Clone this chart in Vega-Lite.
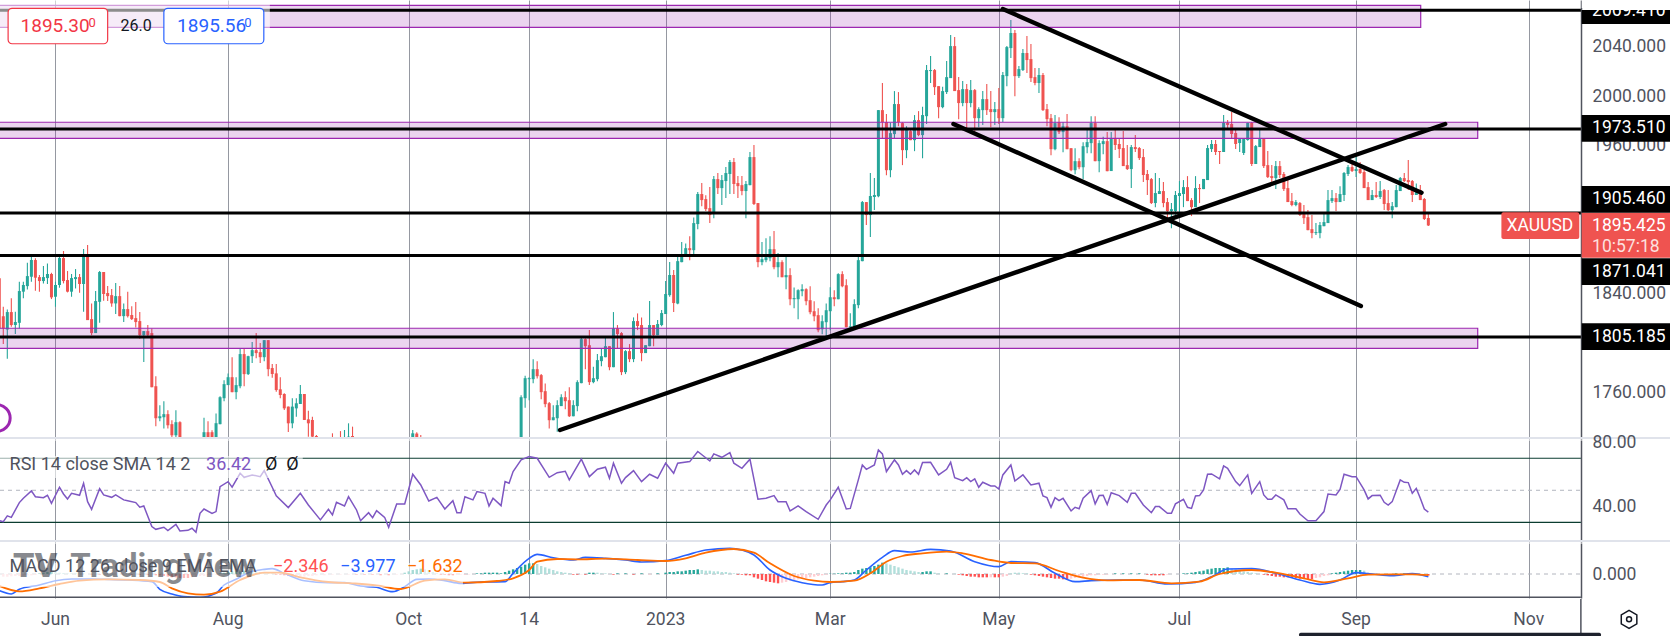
{
"$schema":"https://vega.github.io/schema/vega-lite/v6.json",
"padding":0,
"background":"white",
"bounds":"flush",
"spacing":1,
"config":{"view":{"stroke":null},"font":"Roboto","text":{"font":"Roboto"},"axis":{"labelFont":"Roboto"}},
"datasets":{
"candles":[
{"b":-1,"o":1852.6,"h":1852.6,"l":1812.1,"c":1812.1},
{"b":0,"o":1822,"h":1829.6,"l":1799.4,"c":1812.1},
{"b":1,"o":1811.2,"h":1827.4,"l":1787.5,"c":1825.3},
{"b":2,"o":1825.3,"h":1836.4,"l":1813.4,"c":1814.8},
{"b":3,"o":1814.8,"h":1825.6,"l":1807.5,"c":1817.2},
{"b":4,"o":1816.6,"h":1849.9,"l":1812.1,"c":1842.3},
{"b":5,"o":1841.8,"h":1849.9,"l":1836.4,"c":1847.2},
{"b":6,"o":1846.3,"h":1865.2,"l":1843.6,"c":1854.4},
{"b":7,"o":1853.9,"h":1870.1,"l":1849.9,"c":1867.4},
{"b":8,"o":1867.4,"h":1868.8,"l":1842.6,"c":1853.1},
{"b":9,"o":1853.6,"h":1855.3,"l":1841.8,"c":1850.4},
{"b":10,"o":1850.4,"h":1862.5,"l":1848.5,"c":1853.6},
{"b":11,"o":1852.8,"h":1864.7,"l":1848,"c":1856.1},
{"b":12,"o":1856.1,"h":1857.1,"l":1835.8,"c":1837.2},
{"b":13,"o":1837.7,"h":1849.9,"l":1829.6,"c":1847.2},
{"b":14,"o":1847.2,"h":1870.1,"l":1845,"c":1869},
{"b":15,"o":1869,"h":1874.7,"l":1848.5,"c":1850.4},
{"b":16,"o":1851.2,"h":1858.5,"l":1841.2,"c":1841.8},
{"b":17,"o":1841.8,"h":1856.1,"l":1837.7,"c":1852.8},
{"b":18,"o":1852,"h":1860.1,"l":1844.4,"c":1853.6},
{"b":19,"o":1853.6,"h":1856.1,"l":1840.9,"c":1848},
{"b":20,"o":1848,"h":1876.3,"l":1825.6,"c":1870.1},
{"b":21,"o":1870.1,"h":1879.5,"l":1818.8,"c":1818.8},
{"b":22,"o":1819.6,"h":1832.3,"l":1806.6,"c":1808.3},
{"b":23,"o":1808.3,"h":1842.3,"l":1808.3,"c":1834.2},
{"b":24,"o":1833.6,"h":1858.5,"l":1816.6,"c":1857.7},
{"b":25,"o":1857.7,"h":1857.7,"l":1834.5,"c":1839.9},
{"b":26,"o":1840.7,"h":1846.3,"l":1834.2,"c":1838.2},
{"b":27,"o":1839,"h":1843.9,"l":1829.6,"c":1832.3},
{"b":28,"o":1832.3,"h":1848.8,"l":1823.7,"c":1838.2},
{"b":29,"o":1838.2,"h":1846.3,"l":1822,"c":1822},
{"b":30,"o":1822,"h":1832.3,"l":1817.2,"c":1827.7},
{"b":31,"o":1827.7,"h":1841.8,"l":1821,"c":1822},
{"b":32,"o":1822.9,"h":1830.1,"l":1818.8,"c":1819.6},
{"b":33,"o":1820.4,"h":1833.4,"l":1812.9,"c":1817.2},
{"b":34,"o":1818,"h":1825.3,"l":1803.7,"c":1806.6},
{"b":35,"o":1806.6,"h":1809.9,"l":1785,"c":1809.9},
{"b":36,"o":1809.9,"h":1814.8,"l":1805.8,"c":1806.6},
{"b":37,"o":1808.3,"h":1812.1,"l":1764.5,"c":1764.5},
{"b":38,"o":1765.3,"h":1773.4,"l":1732.9,"c":1739.4},
{"b":39,"o":1739.4,"h":1750,"l":1737,"c":1741},
{"b":40,"o":1740.2,"h":1753.2,"l":1731,"c":1742.7},
{"b":41,"o":1742.7,"h":1745.9,"l":1731,"c":1733.7},
{"b":42,"o":1734.6,"h":1737.8,"l":1724.3,"c":1725.6},
{"b":43,"o":1725.6,"h":1745.9,"l":1721.6,"c":1736.2},
{"b":44,"o":1736.2,"h":1737,"l":1720,"c":1721.6},
{"b":46,"o":1715,"h":1724.3,"l":1700,"c":1718},
{"b":50,"o":1715,"h":1739.7,"l":1705,"c":1728.1},
{"b":51,"o":1728.1,"h":1737,"l":1712,"c":1718},
{"b":52,"o":1728.1,"h":1729.7,"l":1708,"c":1715},
{"b":53,"o":1720,"h":1743.2,"l":1715,"c":1735.4},
{"b":54,"o":1734.6,"h":1757.2,"l":1734.6,"c":1756.4},
{"b":55,"o":1755.6,"h":1770.2,"l":1753.2,"c":1767},
{"b":56,"o":1766.2,"h":1775.6,"l":1766.2,"c":1772.6},
{"b":57,"o":1772.6,"h":1788.8,"l":1760.5,"c":1760.5},
{"b":58,"o":1760.5,"h":1772.6,"l":1754.8,"c":1766.2},
{"b":59,"o":1765.3,"h":1795.9,"l":1763.7,"c":1791.3},
{"b":60,"o":1791.3,"h":1795.9,"l":1765.3,"c":1775.1},
{"b":61,"o":1775.1,"h":1789.9,"l":1774.3,"c":1789.6},
{"b":62,"o":1789.6,"h":1801,"l":1784,"c":1794.5},
{"b":63,"o":1794.5,"h":1808.3,"l":1788,"c":1792.1},
{"b":64,"o":1792.9,"h":1800.2,"l":1784,"c":1788.8},
{"b":65,"o":1788.8,"h":1802.6,"l":1785.6,"c":1802.6},
{"b":66,"o":1802.6,"h":1802.6,"l":1773.4,"c":1779.1},
{"b":67,"o":1780,"h":1783.3,"l":1772.2,"c":1775.2},
{"b":68,"o":1775.7,"h":1783.3,"l":1760.9,"c":1762.2},
{"b":69,"o":1762.8,"h":1772.5,"l":1755.5,"c":1758.2},
{"b":70,"o":1759,"h":1759.6,"l":1746.1,"c":1747.4},
{"b":71,"o":1748.8,"h":1748.8,"l":1728.3,"c":1735.3},
{"b":72,"o":1735.3,"h":1755.5,"l":1731.2,"c":1748.8},
{"b":73,"o":1747.4,"h":1755.5,"l":1740.7,"c":1751.5},
{"b":74,"o":1750.9,"h":1766.3,"l":1750.9,"c":1759},
{"b":75,"o":1759,"h":1759,"l":1738,"c":1738},
{"b":76,"o":1738.5,"h":1745.5,"l":1724.5,"c":1735.3},
{"b":77,"o":1738,"h":1740.7,"l":1721.8,"c":1724.5},
{"b":78,"o":1725,"h":1725.8,"l":1719,"c":1721.3},
{"b":82,"o":1715,"h":1727.2,"l":1705,"c":1710},
{"b":84,"o":1715,"h":1729,"l":1705,"c":1710},
{"b":85,"o":1710,"h":1729.9,"l":1705,"c":1715},
{"b":86,"o":1715,"h":1735.3,"l":1710,"c":1724.5},
{"b":87,"o":1725,"h":1732.6,"l":1710,"c":1715},
{"b":102,"o":1715,"h":1729.9,"l":1710,"c":1727.2},
{"b":103,"o":1727,"h":1728,"l":1710,"c":1715},
{"b":104,"o":1720,"h":1725.8,"l":1708,"c":1712},
{"b":129,"o":1715,"h":1758,"l":1700,"c":1756.4},
{"b":130,"o":1755.6,"h":1773.7,"l":1747.8,"c":1771.8},
{"b":131,"o":1771,"h":1772.5,"l":1754,"c":1771.8},
{"b":132,"o":1771,"h":1787.2,"l":1767.8,"c":1779.1},
{"b":133,"o":1779.1,"h":1785.6,"l":1771.5,"c":1773.4},
{"b":134,"o":1774.3,"h":1775.1,"l":1754.8,"c":1760.5},
{"b":135,"o":1761.3,"h":1767.5,"l":1748.3,"c":1750.8},
{"b":136,"o":1751.6,"h":1752.6,"l":1731,"c":1737.8},
{"b":137,"o":1737.8,"h":1750,"l":1737.8,"c":1740.2},
{"b":138,"o":1739.4,"h":1754,"l":1728.4,"c":1750},
{"b":139,"o":1749.2,"h":1758.9,"l":1749.2,"c":1756.4},
{"b":140,"o":1756.4,"h":1761.3,"l":1746.7,"c":1753.2},
{"b":141,"o":1754,"h":1764.5,"l":1740.5,"c":1741},
{"b":142,"o":1741,"h":1754,"l":1741,"c":1750},
{"b":143,"o":1749.2,"h":1770.2,"l":1745.1,"c":1768.6},
{"b":144,"o":1767.8,"h":1805.3,"l":1767.8,"c":1803.4},
{"b":145,"o":1803.4,"h":1804.2,"l":1779.1,"c":1797.7},
{"b":146,"o":1798.5,"h":1810.7,"l":1766.2,"c":1768.6},
{"b":147,"o":1768.6,"h":1781,"l":1767.8,"c":1771.8},
{"b":148,"o":1771,"h":1791.3,"l":1769.4,"c":1786.4},
{"b":149,"o":1785.6,"h":1795.9,"l":1781.5,"c":1789.6},
{"b":150,"o":1788.8,"h":1805,"l":1788.8,"c":1797.7},
{"b":151,"o":1797.7,"h":1797.7,"l":1778.3,"c":1780.7},
{"b":152,"o":1780.7,"h":1825.3,"l":1780.7,"c":1812.1},
{"b":153,"o":1812.1,"h":1814.8,"l":1795.9,"c":1807.5},
{"b":154,"o":1808.3,"h":1809.1,"l":1774.3,"c":1776.7},
{"b":155,"o":1776.7,"h":1794.5,"l":1775.1,"c":1793.7},
{"b":156,"o":1793.7,"h":1799.4,"l":1784.8,"c":1787.2},
{"b":157,"o":1787.2,"h":1821,"l":1784.8,"c":1818},
{"b":158,"o":1818,"h":1824.2,"l":1810.7,"c":1814},
{"b":159,"o":1814.8,"h":1821,"l":1785.6,"c":1792.1},
{"b":160,"o":1792.1,"h":1798.5,"l":1792.1,"c":1798.5},
{"b":161,"o":1797.7,"h":1834.2,"l":1797.7,"c":1814.8},
{"b":162,"o":1814.8,"h":1814.8,"l":1797.7,"c":1806.6},
{"b":163,"o":1806.6,"h":1818.8,"l":1806.6,"c":1815.6},
{"b":164,"o":1814.8,"h":1826.9,"l":1813.9,"c":1824.5},
{"b":165,"o":1823.7,"h":1850.4,"l":1823.7,"c":1839.9},
{"b":166,"o":1839,"h":1865.8,"l":1837.7,"c":1855.3},
{"b":167,"o":1855.3,"h":1859.3,"l":1825.3,"c":1832.6},
{"b":168,"o":1832.2,"h":1870.5,"l":1831.7,"c":1866.5},
{"b":169,"o":1865.7,"h":1881.9,"l":1865.7,"c":1870.5},
{"b":170,"o":1870.5,"h":1880.8,"l":1870.5,"c":1877},
{"b":171,"o":1877,"h":1886.7,"l":1867.3,"c":1875.4},
{"b":172,"o":1875.4,"h":1901.9,"l":1871.4,"c":1897.3},
{"b":173,"o":1896.5,"h":1922.4,"l":1892.4,"c":1920.8},
{"b":174,"o":1920.8,"h":1929.7,"l":1911,"c":1915.9},
{"b":175,"o":1916.7,"h":1919.9,"l":1907,"c":1908.6},
{"b":176,"o":1909.4,"h":1926.4,"l":1897.3,"c":1903.8},
{"b":177,"o":1906.2,"h":1935.3,"l":1901.3,"c":1932.9},
{"b":178,"o":1932.9,"h":1937.8,"l":1920.8,"c":1925.6},
{"b":179,"o":1925.6,"h":1936.2,"l":1911.9,"c":1932.1},
{"b":180,"o":1931.3,"h":1942.6,"l":1917.5,"c":1937.8},
{"b":181,"o":1937,"h":1948.3,"l":1920.8,"c":1946.7},
{"b":182,"o":1946.7,"h":1949.9,"l":1920.8,"c":1928.9},
{"b":183,"o":1929.7,"h":1935.3,"l":1917.5,"c":1927.2},
{"b":184,"o":1928,"h":1935.3,"l":1919.9,"c":1923.2},
{"b":185,"o":1923.2,"h":1931.3,"l":1901.3,"c":1928.9},
{"b":186,"o":1928,"h":1954.8,"l":1928,"c":1950.7},
{"b":187,"o":1950.7,"h":1960.5,"l":1911.9,"c":1912.7},
{"b":188,"o":1913.5,"h":1913.5,"l":1861.6,"c":1865.7},
{"b":189,"o":1865.7,"h":1881.9,"l":1863.2,"c":1868.1},
{"b":190,"o":1867.3,"h":1885.1,"l":1865.7,"c":1869.7},
{"b":191,"o":1868.9,"h":1886.7,"l":1866.5,"c":1876.2},
{"b":192,"o":1876.2,"h":1890.8,"l":1860,"c":1861.6},
{"b":193,"o":1861.6,"h":1873,"l":1853.5,"c":1865.7},
{"b":194,"o":1865.7,"h":1867.3,"l":1853.5,"c":1853.5},
{"b":195,"o":1853.5,"h":1870,"l":1843.8,"c":1855.2},
{"b":196,"o":1855.2,"h":1860.8,"l":1830.9,"c":1835.7},
{"b":197,"o":1835.7,"h":1845.2,"l":1828.4,"c":1836.6},
{"b":198,"o":1835.7,"h":1843.8,"l":1819.5,"c":1843},
{"b":199,"o":1842.2,"h":1847.9,"l":1838.2,"c":1843.8},
{"b":200,"o":1843.8,"h":1844.6,"l":1830.9,"c":1834.1},
{"b":201,"o":1834.9,"h":1846.2,"l":1823.6,"c":1825.2},
{"b":202,"o":1826,"h":1834.1,"l":1817.9,"c":1821.9},
{"b":203,"o":1822.8,"h":1828.4,"l":1809,"c":1810.6},
{"b":204,"o":1811.4,"h":1822.8,"l":1807.4,"c":1817.9},
{"b":205,"o":1817.1,"h":1832.2,"l":1805.7,"c":1826.8},
{"b":206,"o":1826,"h":1845.4,"l":1810.6,"c":1837.3},
{"b":207,"o":1837.3,"h":1843,"l":1830,"c":1835.7},
{"b":208,"o":1835.7,"h":1856.8,"l":1835.7,"c":1856},
{"b":209,"o":1856,"h":1858.4,"l":1845.4,"c":1846.2},
{"b":210,"o":1847,"h":1851.9,"l":1813,"c":1813},
{"b":211,"o":1813,"h":1824.4,"l":1811.9,"c":1813.8},
{"b":212,"o":1813,"h":1835.7,"l":1811.9,"c":1831.7},
{"b":213,"o":1830.9,"h":1870,"l":1828.4,"c":1867.3},
{"b":214,"o":1866.5,"h":1915.1,"l":1866.5,"c":1914.3},
{"b":215,"o":1914.3,"h":1914.3,"l":1895.7,"c":1903.8},
{"b":216,"o":1903.8,"h":1937.8,"l":1886,"c":1919.2},
{"b":217,"o":1918.4,"h":1933.7,"l":1907.8,"c":1920},
{"b":218,"o":1919,"h":1988.7,"l":1918.2,"c":1988.7},
{"b":219,"o":1988.7,"h":2010.6,"l":1965.8,"c":1979},
{"b":220,"o":1979,"h":1985.5,"l":1936,"c":1940.1},
{"b":221,"o":1940.1,"h":1978.4,"l":1934.4,"c":1970.1},
{"b":222,"o":1969.3,"h":2004.1,"l":1965.8,"c":1993.6},
{"b":223,"o":1993.6,"h":2003.3,"l":1975.7,"c":1979},
{"b":224,"o":1978.2,"h":1979,"l":1944.2,"c":1956.3},
{"b":225,"o":1956.3,"h":1975.7,"l":1949.8,"c":1972.5},
{"b":226,"o":1971.7,"h":1972.5,"l":1964.4,"c":1964.4},
{"b":227,"o":1964.4,"h":1984.7,"l":1955.5,"c":1980.6},
{"b":228,"o":1980.6,"h":1987.9,"l":1967.6,"c":1968.5},
{"b":229,"o":1968.5,"h":1991.4,"l":1949.8,"c":1984.7},
{"b":230,"o":1983.8,"h":2025.2,"l":1977.4,"c":2021.1},
{"b":231,"o":2020.3,"h":2032.4,"l":2010.6,"c":2021.1},
{"b":232,"o":2021.1,"h":2021.9,"l":2000.9,"c":2007.3},
{"b":233,"o":2008.1,"h":2008.1,"l":1982.2,"c":1991.1},
{"b":234,"o":1991.1,"h":2007.6,"l":1990.3,"c":2004.1},
{"b":235,"o":2003.3,"h":2028.4,"l":2001.7,"c":2015.4},
{"b":236,"o":2014.6,"h":2049.5,"l":2014.6,"c":2040.5},
{"b":237,"o":2040.5,"h":2047.8,"l":2004.1,"c":2004.1},
{"b":238,"o":2004.9,"h":2015.4,"l":1981.4,"c":1994.4},
{"b":239,"o":1994.4,"h":2012.2,"l":1991.9,"c":2005.7},
{"b":240,"o":2005.7,"h":2009.8,"l":1973.3,"c":1994.4},
{"b":241,"o":1994.4,"h":2013,"l":1991.1,"c":2004.9},
{"b":242,"o":2004.9,"h":2005.7,"l":1971.7,"c":1982.2},
{"b":243,"o":1982.2,"h":1991.1,"l":1974.9,"c":1989.5},
{"b":244,"o":1988.7,"h":2004.1,"l":1976.6,"c":1997.6},
{"b":245,"o":1997.6,"h":2009.8,"l":1984.7,"c":1988.7},
{"b":246,"o":1989.5,"h":2004.1,"l":1974.9,"c":1987.1},
{"b":247,"o":1987.1,"h":1995.2,"l":1976.6,"c":1989.5},
{"b":248,"o":1989.5,"h":2006.5,"l":1977.4,"c":1982.2},
{"b":249,"o":1982.2,"h":2019.5,"l":1979,"c":2017.1},
{"b":250,"o":2016.2,"h":2040.5,"l":2008.1,"c":2039.7},
{"b":251,"o":2038.9,"h":2061.6,"l":2030.8,"c":2051.1},
{"b":252,"o":2051.1,"h":2053.5,"l":2000,"c":2016.2},
{"b":253,"o":2016.2,"h":2024.3,"l":2014.6,"c":2021.9},
{"b":254,"o":2021.1,"h":2038.1,"l":2020.3,"c":2034.9},
{"b":255,"o":2034.9,"h":2048.6,"l":2018.7,"c":2029.2},
{"b":256,"o":2030,"h":2042.2,"l":2011.4,"c":2014.6},
{"b":257,"o":2015.4,"h":2022.7,"l":2008.9,"c":2010.6},
{"b":258,"o":2010.6,"h":2022.7,"l":2002.5,"c":2017.1},
{"b":259,"o":2017.1,"h":2018.7,"l":1987.9,"c":1988.7},
{"b":260,"o":1989.5,"h":1993.6,"l":1975.7,"c":1981.4},
{"b":261,"o":1982.2,"h":1985.5,"l":1952.2,"c":1957.1},
{"b":262,"o":1957.1,"h":1984.7,"l":1956.3,"c":1978.2},
{"b":263,"o":1979,"h":1983,"l":1969.3,"c":1970.9},
{"b":264,"o":1970.9,"h":1979,"l":1954.7,"c":1975.7},
{"b":265,"o":1975.7,"h":1985.5,"l":1957.1,"c":1957.1},
{"b":266,"o":1957.9,"h":1957.9,"l":1939.3,"c":1940.1},
{"b":267,"o":1940.1,"h":1957.9,"l":1936.9,"c":1947.4},
{"b":268,"o":1947.4,"h":1949.8,"l":1940.9,"c":1942.5},
{"b":269,"o":1942.5,"h":1962.8,"l":1932.8,"c":1959.5},
{"b":270,"o":1958.7,"h":1973.3,"l":1953.9,"c":1962.8},
{"b":271,"o":1962,"h":1983.8,"l":1953.9,"c":1978.2},
{"b":272,"o":1978.2,"h":1983.8,"l":1947.4,"c":1947.4},
{"b":273,"o":1947.4,"h":1964.4,"l":1938.5,"c":1962},
{"b":274,"o":1961.2,"h":1967.1,"l":1953,"c":1963.6},
{"b":275,"o":1963.6,"h":1970.9,"l":1939.3,"c":1939.3},
{"b":276,"o":1939.4,"h":1971,"l":1939.4,"c":1965.3},
{"b":277,"o":1965.3,"h":1972.6,"l":1956.4,"c":1960.5},
{"b":278,"o":1961.3,"h":1966.1,"l":1949.9,"c":1957.2},
{"b":279,"o":1958,"h":1971.8,"l":1943.4,"c":1943.4},
{"b":280,"o":1944.2,"h":1960.5,"l":1940.2,"c":1941},
{"b":281,"o":1941,"h":1960.5,"l":1925.6,"c":1958.8},
{"b":282,"o":1958.8,"h":1968.6,"l":1954.8,"c":1957.2},
{"b":283,"o":1958,"h":1958.8,"l":1948.3,"c":1949.9},
{"b":284,"o":1950.7,"h":1957.2,"l":1930.5,"c":1936.2},
{"b":285,"o":1937,"h":1940.2,"l":1920,"c":1932.1},
{"b":286,"o":1932.9,"h":1933.7,"l":1912.7,"c":1913.5},
{"b":287,"o":1913.5,"h":1937.8,"l":1910.2,"c":1921.6},
{"b":288,"o":1920.8,"h":1933.7,"l":1920.8,"c":1923.2},
{"b":289,"o":1923.2,"h":1930.5,"l":1910.2,"c":1913.5},
{"b":290,"o":1914.3,"h":1917.5,"l":1899.7,"c":1907},
{"b":291,"o":1907,"h":1913.5,"l":1893.2,"c":1908.6},
{"b":292,"o":1907,"h":1923.2,"l":1903.8,"c":1920},
{"b":293,"o":1919.2,"h":1931.3,"l":1903.8,"c":1921.6},
{"b":294,"o":1920.8,"h":1932.1,"l":1910.2,"c":1926.4},
{"b":295,"o":1926.4,"h":1935.3,"l":1915.1,"c":1915.1},
{"b":296,"o":1915.9,"h":1917.5,"l":1903,"c":1910.2},
{"b":297,"o":1910.2,"h":1935.3,"l":1910.2,"c":1925.6},
{"b":298,"o":1925.6,"h":1928.9,"l":1913.5,"c":1924.8},
{"b":299,"o":1924.8,"h":1933,"l":1924.8,"c":1933},
{"b":300,"o":1932.1,"h":1960.5,"l":1932.1,"c":1958},
{"b":301,"o":1957.2,"h":1964.5,"l":1954.8,"c":1961.3},
{"b":302,"o":1961.3,"h":1964.5,"l":1952.4,"c":1954.8},
{"b":303,"o":1955.6,"h":1955.6,"l":1945.1,"c":1954.8},
{"b":304,"o":1954.8,"h":1984.8,"l":1954.8,"c":1978.3},
{"b":305,"o":1978.3,"h":1980.7,"l":1974.2,"c":1976.7},
{"b":306,"o":1977.5,"h":1987.2,"l":1966.1,"c":1969.4},
{"b":307,"o":1970.2,"h":1973.4,"l":1957.2,"c":1961.3},
{"b":308,"o":1962.1,"h":1966.1,"l":1954.8,"c":1965.3},
{"b":309,"o":1954,"h":1966.1,"l":1952.4,"c":1965.3},
{"b":310,"o":1964.5,"h":1978.5,"l":1964,"c":1978.3},
{"b":311,"o":1978.3,"h":1979.1,"l":1943.4,"c":1945.1},
{"b":312,"o":1945.1,"h":1960.5,"l":1945.1,"c":1959.6},
{"b":313,"o":1958.8,"h":1972.6,"l":1958.8,"c":1965.3},
{"b":314,"o":1965.3,"h":1966.1,"l":1941.8,"c":1943.4},
{"b":315,"o":1944.2,"h":1955.6,"l":1933.7,"c":1934.5},
{"b":316,"o":1935.3,"h":1944.2,"l":1928.9,"c":1933.7},
{"b":317,"o":1933.7,"h":1947.5,"l":1924.8,"c":1943.4},
{"b":318,"o":1943.4,"h":1947.5,"l":1933.7,"c":1936.2},
{"b":319,"o":1937,"h":1938.6,"l":1923.2,"c":1924.8},
{"b":320,"o":1925.6,"h":1933.2,"l":1914.3,"c":1914.3},
{"b":321,"o":1915.1,"h":1921.6,"l":1911,"c":1911.9},
{"b":322,"o":1911.9,"h":1915.9,"l":1911,"c":1914.3},
{"b":323,"o":1913.5,"h":1914.3,"l":1903,"c":1903.8},
{"b":324,"o":1904.6,"h":1911.9,"l":1896.5,"c":1901.3},
{"b":325,"o":1902.1,"h":1907.8,"l":1891.6,"c":1891.6},
{"b":326,"o":1892.4,"h":1903.8,"l":1885.1,"c":1889.2},
{"b":327,"o":1889.2,"h":1897.3,"l":1887.6,"c":1890},
{"b":328,"o":1889.2,"h":1898.1,"l":1885.1,"c":1895.7},
{"b":329,"o":1894.8,"h":1905.4,"l":1894.8,"c":1898.1},
{"b":330,"o":1897.3,"h":1924,"l":1897.3,"c":1915.9},
{"b":331,"o":1915.1,"h":1924,"l":1913.5,"c":1917.5},
{"b":332,"o":1917.5,"h":1921.6,"l":1907,"c":1914.3},
{"b":333,"o":1914.3,"h":1927.2,"l":1914.3,"c":1920.8},
{"b":334,"o":1920,"h":1938.6,"l":1915.1,"c":1937.8},
{"b":335,"o":1937,"h":1944.2,"l":1935.3,"c":1942.6},
{"b":336,"o":1942.6,"h":1945.9,"l":1938.6,"c":1939.4},
{"b":337,"o":1939.4,"h":1950.7,"l":1934.5,"c":1941},
{"b":338,"o":1941,"h":1946.7,"l":1937,"c":1937.8},
{"b":339,"o":1938.6,"h":1940.2,"l":1925.6,"c":1925.6},
{"b":340,"o":1926.4,"h":1930.5,"l":1915.9,"c":1915.9},
{"b":341,"o":1915.9,"h":1924,"l":1915.9,"c":1920},
{"b":342,"o":1920,"h":1930.5,"l":1917.5,"c":1918.4},
{"b":343,"o":1918.4,"h":1931.3,"l":1916.7,"c":1923.2},
{"b":344,"o":1924,"h":1924.8,"l":1907.8,"c":1912.7},
{"b":345,"o":1913.5,"h":1924,"l":1907,"c":1907.8},
{"b":346,"o":1907.8,"h":1914.3,"l":1901.3,"c":1911},
{"b":347,"o":1910.2,"h":1928.1,"l":1910.2,"c":1924},
{"b":348,"o":1923.2,"h":1934.6,"l":1923.2,"c":1933.7},
{"b":349,"o":1933.7,"h":1937.8,"l":1930.5,"c":1931.3},
{"b":350,"o":1932.1,"h":1948.3,"l":1924,"c":1930.5},
{"b":351,"o":1931.3,"h":1932.1,"l":1914.3,"c":1920},
{"b":352,"o":1920,"h":1929.4,"l":1920,"c":1922.4},
{"b":353,"o":1924,"h":1928.1,"l":1915.9,"c":1915.9},
{"b":354,"o":1916.8,"h":1917.6,"l":1899.8,"c":1900.6},
{"b":355,"o":1901.4,"h":1904.7,"l":1895,"c":1895.4}
],
"rsi":[
{"b":-1,"v":31},{"b":0,"v":30.4},{"b":1,"v":34},{"b":2,"v":33.1},{"b":4,"v":42.3},{"b":5,"v":45},{"b":7,"v":49.6},{"b":8,"v":46},{"b":10,"v":45.4},{"b":11,"v":46.9},{"b":12,"v":41.9},{"b":14,"v":51.9},{"b":15,"v":47.7},{"b":16,"v":44.6},{"b":17,"v":48.1},{"b":19,"v":46.9},{"b":20,"v":54.4},{"b":21,"v":42.9},{"b":22,"v":38.1},{"b":24,"v":51},{"b":25,"v":47.1},{"b":27,"v":45.6},{"b":28,"v":47.1},{"b":30,"v":44},{"b":31,"v":43.5},{"b":33,"v":42.3},{"b":34,"v":39.4},{"b":35,"v":40.2},{"b":37,"v":27.3},{"b":38,"v":25.6},{"b":40,"v":26.9},{"b":41,"v":24.8},{"b":43,"v":28.7},{"b":44,"v":24.6},{"b":46,"v":25},{"b":47,"v":26.3},{"b":48,"v":23.8},{"b":49,"v":35.6},{"b":50,"v":38.3},{"b":52,"v":35.6},{"b":53,"v":36.7},{"b":54,"v":52.3},{"b":56,"v":55.4},{"b":57,"v":51.9},{"b":59,"v":60.6},{"b":60,"v":58.1},{"b":62,"v":59.6},{"b":64,"v":58.5},{"b":65,"v":62.3},{"b":67,"v":51.9},{"b":68,"v":46.5},{"b":71,"v":39.2},{"b":74,"v":48.1},{"b":76,"v":40.8},{"b":79,"v":31.5},{"b":81,"v":38.1},{"b":82,"v":34.6},{"b":83,"v":42.5},{"b":85,"v":40.2},{"b":86,"v":46},{"b":88,"v":37.7},{"b":89,"v":31},{"b":91,"v":36},{"b":92,"v":32.9},{"b":93,"v":37.3},{"b":95,"v":33.1},{"b":96,"v":26.9},{"b":98,"v":41.5},{"b":100,"v":41.5},{"b":102,"v":60},{"b":104,"v":53.3},{"b":106,"v":43.3},{"b":108,"v":45.6},{"b":110,"v":38.3},{"b":112,"v":43.5},{"b":113,"v":36},{"b":114,"v":36},{"b":115,"v":46},{"b":117,"v":44},{"b":118,"v":49.2},{"b":120,"v":48.1},{"b":121,"v":40.2},{"b":122,"v":45},{"b":124,"v":40.4},{"b":125,"v":55.4},{"b":126,"v":54.4},{"b":127,"v":61.7},{"b":129,"v":69},{"b":131,"v":71},{"b":133,"v":70},{"b":136,"v":58.1},{"b":138,"v":61},{"b":140,"v":61.9},{"b":141,"v":56.5},{"b":144,"v":69.4},{"b":146,"v":58.5},{"b":148,"v":63.1},{"b":150,"v":64.4},{"b":151,"v":57.5},{"b":152,"v":66.9},{"b":154,"v":54.4},{"b":155,"v":57.9},{"b":157,"v":62.3},{"b":159,"v":55.4},{"b":161,"v":60},{"b":163,"v":57.5},{"b":165,"v":66.9},{"b":167,"v":60.6},{"b":168,"v":66.9},{"b":171,"v":67.9},{"b":173,"v":74.2},{"b":176,"v":68.3},{"b":177,"v":72.7},{"b":179,"v":70.6},{"b":181,"v":73.5},{"b":182,"v":66.9},{"b":184,"v":63.7},{"b":186,"v":69.4},{"b":188,"v":44.4},{"b":190,"v":45},{"b":192,"v":46.7},{"b":193,"v":42.9},{"b":195,"v":42.9},{"b":196,"v":37.1},{"b":198,"v":40.2},{"b":200,"v":36.7},{"b":203,"v":31.9},{"b":205,"v":40.8},{"b":206,"v":44},{"b":208,"v":51.9},{"b":210,"v":38.3},{"b":211,"v":38.7},{"b":213,"v":56.5},{"b":214,"v":65.8},{"b":215,"v":63.1},{"b":217,"v":65.8},{"b":218,"v":75.2},{"b":219,"v":72.7},{"b":220,"v":61.7},{"b":222,"v":69},{"b":223,"v":65.8},{"b":224,"v":60},{"b":225,"v":62.3},{"b":226,"v":60},{"b":227,"v":62.7},{"b":228,"v":60},{"b":229,"v":67.3},{"b":231,"v":67.5},{"b":233,"v":59.6},{"b":235,"v":63.1},{"b":236,"v":67.5},{"b":237,"v":57.9},{"b":239,"v":56},{"b":240,"v":57.9},{"b":241,"v":55.4},{"b":242,"v":57.1},{"b":243,"v":51.9},{"b":244,"v":55},{"b":246,"v":52.7},{"b":247,"v":52.7},{"b":248,"v":50.8},{"b":249,"v":59.6},{"b":251,"v":65.8},{"b":252,"v":55.8},{"b":254,"v":59.6},{"b":256,"v":53.3},{"b":258,"v":54.4},{"b":259,"v":46.5},{"b":260,"v":45.4},{"b":261,"v":39.4},{"b":262,"v":45.4},{"b":263,"v":43.5},{"b":264,"v":45},{"b":266,"v":37.1},{"b":267,"v":39.4},{"b":268,"v":38.5},{"b":269,"v":45},{"b":271,"v":49.8},{"b":272,"v":41.5},{"b":273,"v":46.7},{"b":274,"v":46.9},{"b":275,"v":41.2},{"b":276,"v":48.5},{"b":278,"v":46.7},{"b":280,"v":42.5},{"b":281,"v":48.1},{"b":282,"v":48.1},{"b":284,"v":40.8},{"b":286,"v":36},{"b":287,"v":39.8},{"b":288,"v":39.8},{"b":290,"v":35.6},{"b":291,"v":35.6},{"b":292,"v":41.5},{"b":294,"v":44.4},{"b":295,"v":39.4},{"b":296,"v":38.7},{"b":297,"v":46.5},{"b":298,"v":46.7},{"b":299,"v":50.2},{"b":300,"v":60},{"b":301,"v":60.2},{"b":303,"v":57.1},{"b":304,"v":65.2},{"b":305,"v":63.7},{"b":307,"v":55.4},{"b":308,"v":52.9},{"b":310,"v":59.6},{"b":311,"v":48.1},{"b":313,"v":55.4},{"b":314,"v":47.1},{"b":315,"v":44.4},{"b":316,"v":44.4},{"b":317,"v":47.1},{"b":319,"v":44},{"b":320,"v":38.5},{"b":322,"v":38.5},{"b":323,"v":35.2},{"b":325,"v":31},{"b":327,"v":31},{"b":329,"v":36.7},{"b":330,"v":47.7},{"b":332,"v":47.1},{"b":333,"v":50.6},{"b":334,"v":60},{"b":336,"v":58.5},{"b":337,"v":58.5},{"b":339,"v":50.2},{"b":340,"v":44.6},{"b":341,"v":46.7},{"b":343,"v":46.9},{"b":344,"v":42.5},{"b":345,"v":40.8},{"b":346,"v":42.9},{"b":348,"v":56.5},{"b":349,"v":55},{"b":350,"v":54.8},{"b":351,"v":48.1},{"b":352,"v":51.2},{"b":353,"v":45},{"b":354,"v":38.3},{"b":355,"v":36.4}
],
"macd":[
{"b":-1,"v":-25},{"b":2,"v":-30},{"b":4,"v":-23},{"b":9,"v":-16.5},{"b":13,"v":-10},{"b":17,"v":-7.5},{"b":22,"v":-7.5},{"b":26,"v":-8},{"b":31,"v":-9},{"b":37,"v":-11.5},{"b":39,"v":-23},{"b":42,"v":-30},{"b":45,"v":-34},{"b":49,"v":-35},{"b":53,"v":-29},{"b":55,"v":-16.5},{"b":58,"v":-8},{"b":61,"v":2},{"b":65,"v":7},{"b":67,"v":8},{"b":70,"v":1},{"b":75,"v":-10},{"b":81,"v":-13},{"b":85,"v":-13},{"b":89,"v":-18},{"b":93,"v":-20},{"b":97,"v":-26.5},{"b":100,"v":-19},{"b":103,"v":-8},{"b":106,"v":-7.5},{"b":110,"v":-10},{"b":114,"v":-14},{"b":119,"v":-12},{"b":125,"v":-11.5},{"b":127,"v":1},{"b":131,"v":23.5},{"b":133,"v":29.5},{"b":137,"v":24.5},{"b":142,"v":21},{"b":145,"v":25},{"b":150,"v":23.5},{"b":155,"v":21},{"b":159,"v":18},{"b":165,"v":20},{"b":170,"v":28},{"b":175,"v":36},{"b":181,"v":38.5},{"b":184,"v":36},{"b":187,"v":28.5},{"b":191,"v":6},{"b":195,"v":-6.5},{"b":199,"v":-13},{"b":204,"v":-16.5},{"b":206,"v":-13},{"b":209,"v":-11.5},{"b":212,"v":-9},{"b":215,"v":6},{"b":219,"v":25},{"b":222,"v":35},{"b":226,"v":33},{"b":231,"v":37},{"b":236,"v":34.5},{"b":242,"v":18.5},{"b":248,"v":11},{"b":251,"v":18.5},{"b":257,"v":17},{"b":262,"v":1},{"b":267,"v":-11.5},{"b":271,"v":-10},{"b":278,"v":-9},{"b":283,"v":-9},{"b":290,"v":-15},{"b":297,"v":-12.5},{"b":301,"v":-4},{"b":305,"v":7.5},{"b":311,"v":8},{"b":317,"v":1},{"b":323,"v":-9},{"b":328,"v":-15.5},{"b":333,"v":-9},{"b":337,"v":2},{"b":341,"v":0},{"b":346,"v":-2.5},{"b":351,"v":0.5},{"b":355,"v":-4}
],
"signal":[
{"b":-1,"v":-18},{"b":4,"v":-26},{"b":9,"v":-21.5},{"b":14,"v":-15},{"b":19,"v":-10},{"b":26,"v":-8},{"b":34,"v":-9},{"b":39,"v":-12},{"b":42,"v":-21.5},{"b":46,"v":-29},{"b":50,"v":-31},{"b":54,"v":-26.5},{"b":59,"v":-9},{"b":65,"v":2},{"b":69,"v":2},{"b":74,"v":-5},{"b":81,"v":-12},{"b":87,"v":-14},{"b":93,"v":-17},{"b":99,"v":-22.5},{"b":105,"v":-10},{"b":110,"v":-8},{"b":115,"v":-13},{"b":123,"v":-10.5},{"b":127,"v":-6.5},{"b":131,"v":6},{"b":133,"v":18.5},{"b":138,"v":22.5},{"b":143,"v":22},{"b":150,"v":23},{"b":158,"v":21},{"b":165,"v":19.5},{"b":170,"v":23.5},{"b":175,"v":32},{"b":182,"v":37.5},{"b":187,"v":32},{"b":191,"v":16},{"b":197,"v":-3},{"b":202,"v":-10},{"b":206,"v":-12},{"b":212,"v":-10},{"b":216,"v":1},{"b":220,"v":18.5},{"b":224,"v":27},{"b":229,"v":31},{"b":235,"v":33.5},{"b":239,"v":31},{"b":246,"v":21},{"b":251,"v":16.5},{"b":257,"v":16},{"b":263,"v":4.5},{"b":269,"v":-5.5},{"b":275,"v":-9.5},{"b":283,"v":-9},{"b":291,"v":-14},{"b":298,"v":-11.5},{"b":303,"v":0},{"b":311,"v":6},{"b":318,"v":1},{"b":324,"v":-6.5},{"b":329,"v":-12.5},{"b":335,"v":-6.5},{"b":340,"v":-1},{"b":346,"v":-0.5},{"b":351,"v":-0.5},{"b":355,"v":-1.6}
],
"hist":[
{"b":0,"v":-4,"p":"rise"},{"b":1,"v":-4,"p":"rise"},{"b":2,"v":-3.5,"p":"rise"},{"b":3,"v":-3,"p":"rise"},{"b":4,"v":-3,"p":"rise"},{"b":5,"v":-2.5,"p":"rise"},{"b":6,"v":-2,"p":"rise"},{"b":7,"v":-2,"p":"rise"},{"b":8,"v":-1.5,"p":"rise"},
{"b":9,"v":1,"p":"up"},{"b":10,"v":2,"p":"up"},{"b":11,"v":3,"p":"up"},{"b":12,"v":3,"p":"up"},{"b":13,"v":2.5,"p":"fade"},{"b":14,"v":2,"p":"fade"},{"b":15,"v":1.5,"p":"fade"},{"b":16,"v":1,"p":"fade"},{"b":17,"v":1,"p":"fade"},{"b":18,"v":1,"p":"fade"},{"b":19,"v":0.5,"p":"fade"},{"b":20,"v":0.5,"p":"fade"},
{"b":22,"v":-0.5,"p":"down"},{"b":24,"v":-1,"p":"down"},{"b":26,"v":-0.5,"p":"rise"},{"b":28,"v":-0.5,"p":"rise"},{"b":30,"v":-0.5,"p":"rise"},{"b":32,"v":-1,"p":"down"},{"b":34,"v":-1,"p":"down"},{"b":36,"v":-1,"p":"down"},{"b":38,"v":-2,"p":"down"},
{"b":39,"v":-2,"p":"down"},{"b":40,"v":-3,"p":"down"},{"b":41,"v":-4,"p":"down"},{"b":42,"v":-5,"p":"down"},{"b":43,"v":-5,"p":"down"},{"b":44,"v":-6,"p":"down"},{"b":45,"v":-6,"p":"down"},{"b":46,"v":-6,"p":"down"},{"b":47,"v":-5,"p":"rise"},{"b":48,"v":-4,"p":"rise"},{"b":49,"v":-3,"p":"rise"},{"b":50,"v":-3,"p":"rise"},{"b":51,"v":-2,"p":"rise"},{"b":52,"v":-1,"p":"rise"},{"b":53,"v":-1,"p":"rise"},
{"b":54,"v":1,"p":"up"},{"b":55,"v":2,"p":"up"},{"b":56,"v":3,"p":"up"},{"b":57,"v":4,"p":"up"},{"b":58,"v":4,"p":"up"},{"b":59,"v":4,"p":"up"},{"b":60,"v":5,"p":"up"},{"b":61,"v":5,"p":"fade"},{"b":62,"v":4,"p":"fade"},{"b":63,"v":3,"p":"fade"},{"b":64,"v":3,"p":"fade"},{"b":65,"v":2,"p":"fade"},{"b":66,"v":2,"p":"fade"},{"b":67,"v":1,"p":"fade"},
{"b":68,"v":-1,"p":"down"},{"b":69,"v":-1,"p":"down"},{"b":70,"v":-2,"p":"down"},{"b":71,"v":-3,"p":"down"},{"b":72,"v":-4,"p":"down"},{"b":73,"v":-4,"p":"rise"},{"b":74,"v":-4,"p":"rise"},{"b":75,"v":-4,"p":"rise"},{"b":76,"v":-3,"p":"rise"},{"b":77,"v":-3,"p":"rise"},{"b":78,"v":-2,"p":"rise"},{"b":80,"v":-2,"p":"rise"},{"b":82,"v":-1,"p":"rise"},{"b":84,"v":-1,"p":"rise"},{"b":86,"v":-1,"p":"rise"},{"b":88,"v":-1,"p":"down"},{"b":90,"v":-1,"p":"down"},{"b":92,"v":-1,"p":"down"},{"b":94,"v":-2,"p":"down"},{"b":96,"v":-2,"p":"down"},{"b":98,"v":-1,"p":"rise"},
{"b":100,"v":2,"p":"up"},{"b":101,"v":4,"p":"up"},{"b":102,"v":6,"p":"up"},{"b":103,"v":7,"p":"up"},{"b":104,"v":8,"p":"up"},{"b":105,"v":7,"p":"fade"},{"b":106,"v":6,"p":"fade"},{"b":107,"v":3,"p":"fade"},{"b":108,"v":1,"p":"fade"},{"b":109,"v":-1,"p":"down"},{"b":110,"v":-1,"p":"down"},{"b":111,"v":-2,"p":"down"},{"b":112,"v":-2,"p":"down"},{"b":113,"v":-1,"p":"rise"},{"b":114,"v":-1,"p":"rise"},{"b":115,"v":-1,"p":"rise"},{"b":116,"v":-0.5,"p":"rise"},
{"b":118,"v":1,"p":"up"},{"b":119,"v":1,"p":"up"},{"b":120,"v":2,"p":"up"},{"b":121,"v":2,"p":"up"},{"b":122,"v":2,"p":"up"},{"b":123,"v":2,"p":"up"},{"b":124,"v":1,"p":"up"},{"b":125,"v":3,"p":"up"},{"b":126,"v":5,"p":"up"},{"b":127,"v":7,"p":"up"},{"b":128,"v":9,"p":"up"},{"b":129,"v":11,"p":"up"},{"b":130,"v":14,"p":"up"},{"b":131,"v":16,"p":"up"},{"b":132,"v":16,"p":"up"},
{"b":133,"v":15,"p":"fade"},{"b":134,"v":12,"p":"fade"},{"b":135,"v":10,"p":"fade"},{"b":136,"v":8,"p":"fade"},{"b":137,"v":6,"p":"fade"},{"b":138,"v":4,"p":"fade"},{"b":139,"v":3,"p":"fade"},{"b":140,"v":2,"p":"fade"},{"b":141,"v":1,"p":"fade"},
{"b":142,"v":-1,"p":"down"},{"b":143,"v":-1,"p":"down"},{"b":144,"v":-0.5,"p":"rise"},{"b":145,"v":-1,"p":"down"},{"b":146,"v":2,"p":"up"},{"b":147,"v":2,"p":"up"},{"b":148,"v":2,"p":"fade"},{"b":149,"v":1,"p":"fade"},{"b":150,"v":1,"p":"fade"},{"b":152,"v":-1,"p":"down"},{"b":153,"v":1,"p":"up"},{"b":155,"v":1,"p":"up"},{"b":157,"v":-1,"p":"down"},{"b":159,"v":1,"p":"up"},{"b":161,"v":-1,"p":"rise"},{"b":163,"v":1,"p":"up"},
{"b":165,"v":2,"p":"up"},{"b":166,"v":3,"p":"up"},{"b":167,"v":3,"p":"up"},{"b":168,"v":4,"p":"up"},{"b":169,"v":4,"p":"up"},{"b":170,"v":5,"p":"up"},{"b":171,"v":6,"p":"up"},{"b":172,"v":6,"p":"up"},{"b":173,"v":7,"p":"up"},{"b":174,"v":6,"p":"fade"},{"b":175,"v":5,"p":"fade"},{"b":176,"v":5,"p":"fade"},{"b":177,"v":4,"p":"fade"},{"b":178,"v":4,"p":"fade"},{"b":179,"v":3,"p":"fade"},{"b":180,"v":3,"p":"fade"},{"b":181,"v":2,"p":"fade"},{"b":182,"v":1,"p":"fade"},
{"b":183,"v":-1,"p":"down"},{"b":184,"v":-1,"p":"down"},{"b":185,"v":-2,"p":"down"},{"b":186,"v":-2,"p":"down"},{"b":187,"v":-5,"p":"down"},{"b":188,"v":-7,"p":"down"},{"b":189,"v":-9,"p":"down"},{"b":190,"v":-11,"p":"down"},{"b":191,"v":-12,"p":"down"},{"b":192,"v":-13,"p":"down"},{"b":193,"v":-14,"p":"down"},{"b":194,"v":-13,"p":"rise"},{"b":195,"v":-12,"p":"rise"},{"b":196,"v":-10,"p":"rise"},{"b":197,"v":-9,"p":"rise"},{"b":198,"v":-8,"p":"rise"},{"b":199,"v":-7,"p":"rise"},{"b":200,"v":-6,"p":"rise"},{"b":201,"v":-5,"p":"rise"},{"b":202,"v":-4,"p":"rise"},{"b":203,"v":-3,"p":"rise"},{"b":204,"v":-2,"p":"rise"},{"b":205,"v":-1,"p":"rise"},
{"b":206,"v":0.5,"p":"up"},{"b":207,"v":0.5,"p":"up"},{"b":208,"v":1,"p":"up"},{"b":209,"v":1,"p":"up"},{"b":210,"v":2,"p":"up"},{"b":211,"v":2,"p":"up"},{"b":212,"v":3,"p":"up"},{"b":213,"v":6,"p":"up"},{"b":214,"v":8,"p":"up"},{"b":215,"v":9,"p":"up"},{"b":216,"v":10,"p":"up"},{"b":217,"v":12,"p":"up"},{"b":218,"v":14,"p":"up"},{"b":219,"v":17,"p":"up"},
{"b":220,"v":16,"p":"fade"},{"b":221,"v":14,"p":"fade"},{"b":222,"v":12,"p":"fade"},{"b":223,"v":10,"p":"fade"},{"b":224,"v":8,"p":"fade"},{"b":225,"v":6,"p":"fade"},{"b":226,"v":5,"p":"fade"},{"b":227,"v":4,"p":"fade"},{"b":228,"v":3,"p":"fade"},{"b":229,"v":3,"p":"up"},{"b":230,"v":4,"p":"up"},{"b":231,"v":4,"p":"up"},{"b":232,"v":2,"p":"fade"},{"b":233,"v":1,"p":"fade"},{"b":235,"v":1,"p":"up"},{"b":237,"v":0.5,"p":"fade"},
{"b":238,"v":-1,"p":"down"},{"b":239,"v":-2,"p":"down"},{"b":240,"v":-3,"p":"down"},{"b":241,"v":-4,"p":"down"},{"b":242,"v":-4,"p":"down"},{"b":243,"v":-5,"p":"down"},{"b":244,"v":-5,"p":"down"},{"b":245,"v":-5,"p":"down"},{"b":246,"v":-5,"p":"rise"},{"b":247,"v":-5,"p":"down"},{"b":248,"v":-5,"p":"down"},{"b":249,"v":-4,"p":"rise"},{"b":250,"v":-3,"p":"rise"},
{"b":251,"v":1,"p":"fade"},{"b":252,"v":2,"p":"fade"},{"b":253,"v":2,"p":"fade"},{"b":254,"v":1,"p":"fade"},{"b":255,"v":1,"p":"fade"},{"b":256,"v":-1,"p":"down"},{"b":257,"v":-2,"p":"down"},{"b":258,"v":-3,"p":"down"},{"b":259,"v":-4,"p":"down"},{"b":260,"v":-5,"p":"down"},{"b":261,"v":-6,"p":"down"},{"b":262,"v":-7,"p":"down"},{"b":263,"v":-7,"p":"down"},{"b":264,"v":-8,"p":"down"},{"b":265,"v":-8,"p":"down"},
{"b":266,"v":-7,"p":"rise"},{"b":267,"v":-6,"p":"rise"},{"b":268,"v":-5,"p":"rise"},{"b":269,"v":-4,"p":"rise"},{"b":270,"v":-3,"p":"rise"},{"b":271,"v":-2,"p":"rise"},{"b":272,"v":-2,"p":"rise"},{"b":273,"v":-1,"p":"rise"},{"b":274,"v":-1,"p":"rise"},{"b":275,"v":-1,"p":"rise"},
{"b":277,"v":1,"p":"up"},{"b":279,"v":1,"p":"up"},{"b":281,"v":1,"p":"up"},{"b":283,"v":1,"p":"up"},{"b":285,"v":-1,"p":"down"},{"b":286,"v":-2,"p":"down"},{"b":287,"v":-2,"p":"down"},{"b":288,"v":-2,"p":"down"},{"b":289,"v":-2,"p":"down"},{"b":290,"v":-1,"p":"rise"},
{"b":294,"v":1,"p":"up"},{"b":295,"v":1,"p":"up"},{"b":296,"v":2,"p":"up"},{"b":297,"v":3,"p":"up"},{"b":298,"v":4,"p":"up"},{"b":299,"v":5,"p":"up"},{"b":300,"v":7,"p":"up"},{"b":301,"v":8,"p":"up"},{"b":302,"v":9,"p":"up"},{"b":303,"v":9,"p":"up"},{"b":304,"v":9,"p":"up"},{"b":305,"v":10,"p":"up"},{"b":306,"v":8,"p":"fade"},{"b":307,"v":7,"p":"fade"},{"b":308,"v":5,"p":"fade"},{"b":309,"v":4,"p":"fade"},{"b":310,"v":3,"p":"fade"},{"b":311,"v":2,"p":"fade"},{"b":312,"v":1,"p":"fade"},
{"b":314,"v":-1,"p":"down"},{"b":315,"v":-2,"p":"down"},{"b":316,"v":-3,"p":"down"},{"b":317,"v":-4,"p":"down"},{"b":318,"v":-4,"p":"down"},{"b":319,"v":-5,"p":"down"},{"b":320,"v":-5,"p":"down"},{"b":321,"v":-6,"p":"down"},{"b":322,"v":-6,"p":"down"},{"b":323,"v":-7,"p":"down"},{"b":324,"v":-7,"p":"down"},{"b":325,"v":-8,"p":"down"},{"b":326,"v":-8,"p":"down"},{"b":327,"v":-6,"p":"rise"},{"b":328,"v":-5,"p":"rise"},{"b":329,"v":-3,"p":"rise"},{"b":330,"v":-2,"p":"rise"},
{"b":331,"v":1,"p":"up"},{"b":332,"v":2,"p":"up"},{"b":333,"v":3,"p":"up"},{"b":334,"v":4,"p":"up"},{"b":335,"v":5,"p":"up"},{"b":336,"v":6,"p":"up"},{"b":337,"v":6,"p":"up"},{"b":338,"v":6,"p":"up"},{"b":339,"v":5,"p":"fade"},{"b":340,"v":2,"p":"fade"},{"b":341,"v":1,"p":"fade"},{"b":343,"v":-1,"p":"down"},{"b":345,"v":-1,"p":"down"},{"b":347,"v":1,"p":"up"},{"b":349,"v":1,"p":"up"},{"b":351,"v":1,"p":"fade"},{"b":353,"v":-1,"p":"down"},{"b":355,"v":-2.3,"p":"down"}
]
},
"vconcat":[
{
"width":1670,"height":439,
"encoding":{"x":{"field":"b","type":"quantitative","title":null,"scale":{"domain":[-0.82,415.2],"nice":false,"zero":false,"padding":0},"axis":{"values":[13,56,101,131,165,206,248,293,337,380],"labels":false,"ticks":false,"domain":false,"grid":true,"gridColor":"#9598a1","gridWidth":1}}},
"layer":[
{"data":{"name":"candles"},"mark":{"type":"rule","clip":true,"strokeWidth":1.1},
 "encoding":{"y":{"field":"l","type":"quantitative","title":null,"scale":{"domain":[1722.6,2077.8],"nice":false,"zero":false},"axis":{"orient":"right","offset":-89,"values":[2040,2000,1960,1920,1880,1840,1800,1760],"format":".3f","grid":false,"ticks":false,"labelPadding":11,"labelFontSize":17.5,"labelColor":"#50535e","domainColor":"#50535e","domainWidth":1.5,"labelBound":false,"labelOverlap":false}},"y2":{"field":"h"},
 "color":{"condition":{"test":"datum.c >= datum.o","value":"#26a69a"},"value":"#ef5350"}}},
{"data":{"name":"candles"},"mark":{"type":"bar","width":3,"clip":true},
 "encoding":{"y":{"field":"o","type":"quantitative","title":null},"y2":{"field":"c"},
 "color":{"condition":{"test":"datum.c >= datum.o","value":"#26a69a"},"value":"#ef5350"}}},
{"data":{"values":[{"b":-3,"b2":353.1,"p":2073.5,"p2":2055.7},{"b":-3,"b2":367.3,"p":1978.9,"p2":1965.9},{"b":-3,"b2":367.3,"p":1812.2,"p2":1796}]},
 "mark":{"type":"rect","clip":true,"fill":"#9c27b0","fillOpacity":0.2,"stroke":"#9c27b0","strokeWidth":1.2},
 "encoding":{"x2":{"field":"b2"},"y":{"field":"p","type":"quantitative","title":null},"y2":{"field":"p2"}}},
{"data":{"values":[{"b":-1,"b2":393,"p":2069.41},{"b":-1,"b2":393,"p":1973.51},{"b":-1,"b2":393,"p":1905.46},{"b":-1,"b2":393,"p":1871.041},{"b":-1,"b2":393,"p":1805.185}]},
 "mark":{"type":"rule","clip":true,"color":"#000000","strokeWidth":3},
 "encoding":{"x2":{"field":"b2"},"y":{"field":"p","type":"quantitative","title":null}}},
{"data":{"values":[{"b":249,"p":2070.5,"id":"a"},{"b":353.3,"p":1921.9,"id":"a"},{"b":236.7,"p":1977.5,"id":"c"},{"b":338.2,"p":1830.2,"id":"c"},{"b":138.7,"p":1729.9,"id":"e"},{"b":359.2,"p":1977.5,"id":"e"}]},
 "mark":{"type":"line","clip":true,"color":"#000000","strokeWidth":4.4,"strokeCap":"round"},
 "encoding":{"y":{"field":"p","type":"quantitative","title":null},"detail":{"field":"id"}}},
{"data":{"values":[{"b":-1.6,"p":1739.6}]},
 "mark":{"type":"point","clip":true,"size":707,"filled":false,"stroke":"#9c27b0","strokeWidth":3,"opacity":1,"shape":"circle"},
 "encoding":{"y":{"field":"p","type":"quantitative","title":null}}},
{"data":{"values":[{"b":-1,"b2":66.4,"p":2077.8,"p2":2050}]},
 "mark":{"type":"rect","clip":true,"fill":"white","fillOpacity":0.55},
 "encoding":{"x2":{"field":"b2"},"y":{"field":"p","type":"quantitative","title":null},"y2":{"field":"p2"}}},
{"data":{"values":[{"b":1.2,"b2":26,"p":2071.1,"p2":2042.4}]},
 "mark":{"type":"rect","clip":true,"fill":"white","stroke":"#f23645","strokeWidth":1.2,"cornerRadius":4},
 "encoding":{"x2":{"field":"b2"},"y":{"field":"p","type":"quantitative","title":null},"y2":{"field":"p2"}}},
{"data":{"values":[{"b":40,"b2":64.9,"p":2071.1,"p2":2042.4}]},
 "mark":{"type":"rect","clip":true,"fill":"white","stroke":"#2962ff","strokeWidth":1.2,"cornerRadius":4},
 "encoding":{"x2":{"field":"b2"},"y":{"field":"p","type":"quantitative","title":null},"y2":{"field":"p2"}}},
{"data":{"values":[{"b":4.3,"p":2056.8,"t":"1895.30"}]},
 "mark":{"type":"text","clip":true,"align":"left","baseline":"middle","fontSize":19,"color":"#f23645"},
 "encoding":{"y":{"field":"p","type":"quantitative","title":null},"text":{"field":"t"}}},
{"data":{"values":[{"b":21.25,"p":2059,"t":"0"}]},
 "mark":{"type":"text","clip":true,"align":"left","baseline":"middle","fontSize":13,"color":"#f23645"},
 "encoding":{"y":{"field":"p","type":"quantitative","title":null},"text":{"field":"t"}}},
{"data":{"values":[{"b":43.3,"p":2056.8,"t":"1895.56"}]},
 "mark":{"type":"text","clip":true,"align":"left","baseline":"middle","fontSize":19,"color":"#2962ff"},
 "encoding":{"y":{"field":"p","type":"quantitative","title":null},"text":{"field":"t"}}},
{"data":{"values":[{"b":60,"p":2059,"t":"0"}]},
 "mark":{"type":"text","clip":true,"align":"left","baseline":"middle","fontSize":13,"color":"#2962ff"},
 "encoding":{"y":{"field":"p","type":"quantitative","title":null},"text":{"field":"t"}}},
{"data":{"values":[{"b":29.2,"p":2056.8,"t":"26.0"}]},
 "mark":{"type":"text","clip":true,"align":"left","baseline":"middle","fontSize":16,"color":"#131722"},
 "encoding":{"y":{"field":"p","type":"quantitative","title":null},"text":{"field":"t"}}},
{"data":{"values":[{"b":373.2,"b2":392.6,"p":1906,"p2":1884.5}]},
 "mark":{"type":"rect","clip":true,"fill":"#ef5350","cornerRadius":2},
 "encoding":{"x2":{"field":"b2"},"y":{"field":"p","type":"quantitative","title":null},"y2":{"field":"p2"}}},
{"data":{"values":[{"b":393.2,"b2":415.2,"p":1905.7,"p2":1869.3}]},
 "mark":{"type":"rect","clip":true,"fill":"#ef5350"},
 "encoding":{"x2":{"field":"b2"},"y":{"field":"p","type":"quantitative","title":null},"y2":{"field":"p2"}}},
{"data":{"values":[{"b":393.2,"b2":415.2,"p":2069.7,"p2":2058.4},{"b":393.2,"b2":415.2,"p":1984.8,"p2":1963.2},{"b":393.2,"b2":415.2,"p":1927.3,"p2":1905.7},{"b":393.2,"b2":415.2,"p":1868.8,"p2":1847.2},{"b":393.2,"b2":415.2,"p":1816.2,"p2":1794.6}]},
 "mark":{"type":"rect","clip":true,"fill":"#000000"},
 "encoding":{"x2":{"field":"b2"},"y":{"field":"p","type":"quantitative","title":null},"y2":{"field":"p2"}}},
{"data":{"values":[{"b":395.8,"p":1895.3,"t":"1895.425"},{"b":395.8,"p":2069.1,"t":"2069.410"},{"b":395.8,"p":1974,"t":"1973.510"},{"b":395.8,"p":1916.6,"t":"1905.460"},{"b":395.8,"p":1858,"t":"1871.041"},{"b":395.8,"p":1805.4,"t":"1805.185"}]},
 "mark":{"type":"text","clip":true,"align":"left","baseline":"middle","fontSize":17.5,"color":"white"},
 "encoding":{"y":{"field":"p","type":"quantitative","title":null},"text":{"field":"t"}}},
{"data":{"values":[{"b":382.8,"p":1895.3,"t":"XAUUSD"}]},
 "mark":{"type":"text","clip":true,"align":"center","baseline":"middle","fontSize":17.5,"color":"white"},
 "encoding":{"y":{"field":"p","type":"quantitative","title":null},"text":{"field":"t"}}},
{"data":{"values":[{"b":395.8,"p":1878.2,"t":"10:57:18"}]},
 "mark":{"type":"text","clip":true,"align":"left","baseline":"middle","fontSize":17.5,"color":"#fde0df"},
 "encoding":{"y":{"field":"p","type":"quantitative","title":null},"text":{"field":"t"}}},
{"data":{"values":[{"b":393.2,"b2":415.2,"p":2077.8,"p2":2071.3}]},
 "mark":{"type":"rect","clip":true,"fill":"white"},
 "encoding":{"x2":{"field":"b2"},"y":{"field":"p","type":"quantitative","title":null},"y2":{"field":"p2"}}},
{"data":{"values":[{"b":-0.82,"b2":415.2,"p":1722.6}]},
 "mark":{"type":"rule","clip":true,"color":"#e0e3eb","strokeWidth":4},
 "encoding":{"x2":{"field":"b2"},"y":{"field":"p","type":"quantitative","title":null}}}
]
},
{
"width":1670,"height":102,
"encoding":{"x":{"field":"b","type":"quantitative","title":null,"scale":{"domain":[-0.82,415.2],"nice":false,"zero":false,"padding":0},"axis":{"values":[13,56,101,131,165,206,248,293,337,380],"labels":false,"ticks":false,"domain":false,"grid":true,"gridColor":"#9598a1","gridWidth":1}}},
"layer":[
{"data":{"values":[{"b":-0.82,"b2":393,"p":70},{"b":-0.82,"b2":393,"p":30}]},
 "mark":{"type":"rule","clip":true,"color":"#0b3d30","strokeWidth":1.2},
 "encoding":{"x2":{"field":"b2"},"y":{"field":"p","type":"quantitative","title":null,"scale":{"domain":[17.7,81.4],"nice":false,"zero":false},"axis":{"orient":"right","offset":-89,"values":[40,80],"format":".2f","grid":false,"ticks":false,"labelPadding":11,"labelFontSize":17.5,"labelColor":"#50535e","domainColor":"#50535e","domainWidth":1.5,"labelBound":false,"labelOverlap":false}}}},
{"data":{"values":[{"b":-0.82,"b2":393,"p":50}]},
 "mark":{"type":"rule","clip":true,"color":"#b2b5be","strokeWidth":1,"strokeDash":[4,4]},
 "encoding":{"x2":{"field":"b2"},"y":{"field":"p","type":"quantitative","title":null}}},
{"data":{"name":"rsi"},"mark":{"type":"line","clip":true,"color":"#7e57c2","strokeWidth":1.5},
 "encoding":{"y":{"field":"v","type":"quantitative","title":null}}},
{"data":{"values":[{"b":-0.82,"b2":74.6,"p":71.4,"p2":57.6}]},
 "mark":{"type":"rect","clip":true,"fill":"white","fillOpacity":0.6},
 "encoding":{"x2":{"field":"b2"},"y":{"field":"p","type":"quantitative","title":null},"y2":{"field":"p2"}}},
{"data":{"values":[{"b":1.57,"p":65.8,"t":"RSI 14 close SMA 14 2"}]},
 "mark":{"type":"text","clip":true,"align":"left","baseline":"middle","fontSize":18,"color":"#50535e"},
 "encoding":{"y":{"field":"p","type":"quantitative","title":null},"text":{"field":"t"}}},
{"data":{"values":[{"b":50.5,"p":65.8,"t":"36.42"}]},
 "mark":{"type":"text","clip":true,"align":"left","baseline":"middle","fontSize":18,"color":"#7e57c2"},
 "encoding":{"y":{"field":"p","type":"quantitative","title":null},"text":{"field":"t"}}},
{"data":{"values":[{"b":65.2,"p":65.8,"t":"Ø"},{"b":70.5,"p":65.8,"t":"Ø"}]},
 "mark":{"type":"text","clip":true,"align":"left","baseline":"middle","fontSize":18,"color":"#131722"},
 "encoding":{"y":{"field":"p","type":"quantitative","title":null},"text":{"field":"t"}}},
{"data":{"values":[{"b":-0.82,"b2":415.2,"p":17.7}]},
 "mark":{"type":"rule","clip":true,"color":"#e0e3eb","strokeWidth":4},
 "encoding":{"x2":{"field":"b2"},"y":{"field":"p","type":"quantitative","title":null}}}
]
},
{
"width":1670,"height":55,
"encoding":{"x":{"field":"b","type":"quantitative","title":null,"scale":{"domain":[-0.82,415.2],"nice":false,"zero":false,"padding":0},"axis":{"values":[13,56,101,131,165,206,248,293,337,380],"labels":false,"ticks":false,"domain":false,"grid":true,"gridColor":"#9598a1","gridWidth":1}}},
"layer":[
{"data":{"values":[{"b":-0.82,"b2":393,"p":0}]},
 "mark":{"type":"rule","clip":true,"color":"#b2b5be","strokeWidth":1,"strokeDash":[4,4]},
 "encoding":{"x2":{"field":"b2"},"y":{"field":"p","type":"quantitative","title":null,"scale":{"domain":[-36,46.5],"nice":false,"zero":false},"axis":{"orient":"right","offset":-89,"values":[0],"format":".3f","grid":false,"ticks":false,"labelPadding":11,"labelFontSize":17.5,"labelColor":"#50535e","domainColor":"#50535e","domainWidth":1.5,"labelBound":false,"labelOverlap":false}}}},
{"data":{"name":"hist"},"mark":{"type":"bar","width":2.4,"clip":true},
 "encoding":{"y":{"field":"v","type":"quantitative","title":null},"y2":{"datum":0},
 "color":{"field":"p","type":"nominal","legend":null,"scale":{"domain":["up","fade","down","rise"],"range":["#26a69a","#b2dfdb","#ff5252","#ffcdd2"]}}}},
{"data":{"name":"macd"},"mark":{"type":"line","clip":true,"color":"#2962ff","strokeWidth":1.6,"interpolate":"monotone"},
 "encoding":{"y":{"field":"v","type":"quantitative","title":null}}},
{"data":{"name":"signal"},"mark":{"type":"line","clip":true,"color":"#ff6d00","strokeWidth":1.8,"interpolate":"monotone"},
 "encoding":{"y":{"field":"v","type":"quantitative","title":null}}},
{"data":{"values":[{"b":-0.82,"b2":114.5,"p":16.5,"p2":-19.5}]},
 "mark":{"type":"rect","clip":true,"fill":"white","fillOpacity":0.6},
 "encoding":{"x2":{"field":"b2"},"y":{"field":"p","type":"quantitative","title":null},"y2":{"field":"p2"}}},
{"data":{"values":[{"b":2.4,"p":11,"t":"TV"}]},
 "mark":{"type":"text","clip":true,"align":"left","baseline":"middle","fontSize":34,"fontWeight":900,"color":"#131722","opacity":0.5},
 "encoding":{"y":{"field":"p","type":"quantitative","title":null},"text":{"field":"t"}}},
{"data":{"values":[{"b":16.7,"p":11,"t":"TradingView"}]},
 "mark":{"type":"text","clip":true,"align":"left","baseline":"middle","fontSize":33,"fontWeight":700,"color":"#131722","opacity":0.5},
 "encoding":{"y":{"field":"p","type":"quantitative","title":null},"text":{"field":"t"}}},
{"data":{"values":[{"b":1.57,"p":10.5,"t":"MACD 12 26 close 9 EMA EMA"}]},
 "mark":{"type":"text","clip":true,"align":"left","baseline":"middle","fontSize":18,"color":"#50535e"},
 "encoding":{"y":{"field":"p","type":"quantitative","title":null},"text":{"field":"t"}}},
{"data":{"values":[{"b":67.2,"p":10.5,"t":"−2.346"}]},
 "mark":{"type":"text","clip":true,"align":"left","baseline":"middle","fontSize":18,"color":"#ff5252"},
 "encoding":{"y":{"field":"p","type":"quantitative","title":null},"text":{"field":"t"}}},
{"data":{"values":[{"b":83.9,"p":10.5,"t":"−3.977"}]},
 "mark":{"type":"text","clip":true,"align":"left","baseline":"middle","fontSize":18,"color":"#2962ff"},
 "encoding":{"y":{"field":"p","type":"quantitative","title":null},"text":{"field":"t"}}},
{"data":{"values":[{"b":100.6,"p":10.5,"t":"−1.632"}]},
 "mark":{"type":"text","clip":true,"align":"left","baseline":"middle","fontSize":18,"color":"#ff6d00"},
 "encoding":{"y":{"field":"p","type":"quantitative","title":null},"text":{"field":"t"}}},
{"data":{"values":[{"b":-0.82,"b2":393,"p":-36}]},
 "mark":{"type":"rule","clip":true,"color":"#50535e","strokeWidth":3},
 "encoding":{"x2":{"field":"b2"},"y":{"field":"p","type":"quantitative","title":null}}}
]
},
{
"width":1670,"height":37,
"encoding":{"x":{"field":"b","type":"quantitative","title":null,"scale":{"domain":[-0.82,415.2],"nice":false,"zero":false,"padding":0},"axis":null}},
"layer":[
{"data":{"values":[{"b":393,"p":0,"p2":1}]},
 "mark":{"type":"rule","clip":true,"color":"#50535e","strokeWidth":1.5},
 "encoding":{"y":{"field":"p","type":"quantitative","title":null,"scale":{"domain":[0,1],"nice":false,"zero":false},"axis":null},"y2":{"field":"p2"}}},
{"data":{"values":[{"b":13,"p":0.43,"t":"Jun"},{"b":56,"p":0.43,"t":"Aug"},{"b":101,"p":0.43,"t":"Oct"},{"b":131,"p":0.43,"t":"14"},{"b":165,"p":0.43,"t":"2023"},{"b":206,"p":0.43,"t":"Mar"},{"b":248,"p":0.43,"t":"May"},{"b":293,"p":0.43,"t":"Jul"},{"b":337,"p":0.43,"t":"Sep"},{"b":380,"p":0.43,"t":"Nov"}]},
 "mark":{"type":"text","clip":true,"align":"center","baseline":"middle","fontSize":17.5,"color":"#50535e"},
 "encoding":{"y":{"field":"p","type":"quantitative","title":null},"text":{"field":"t"}}},
{"data":{"values":[{"b":405,"p":0.45}]},
 "mark":{"type":"point","clip":true,"opacity":1,"shape":"M0,-1L0.87,-0.5L0.87,0.5L0,1L-0.87,0.5L-0.87,-0.5Z","size":320,"filled":false,"stroke":"#131722","strokeWidth":1.5},
 "encoding":{"y":{"field":"p","type":"quantitative","title":null}}},
{"data":{"values":[{"b":405,"p":0.45}]},
 "mark":{"type":"point","clip":true,"opacity":1,"shape":"circle","size":25,"filled":false,"stroke":"#131722","strokeWidth":1.5},
 "encoding":{"y":{"field":"p","type":"quantitative","title":null}}},
{"data":{"values":[{"b":322.8,"b2":398,"p":0,"p2":0.09}]},
 "mark":{"type":"rect","clip":true,"fill":"#1e222d","cornerRadiusTopLeft":4,"cornerRadiusTopRight":4},
 "encoding":{"x2":{"field":"b2"},"y":{"field":"p","type":"quantitative","title":null},"y2":{"field":"p2"}}}
]
}
]
}
